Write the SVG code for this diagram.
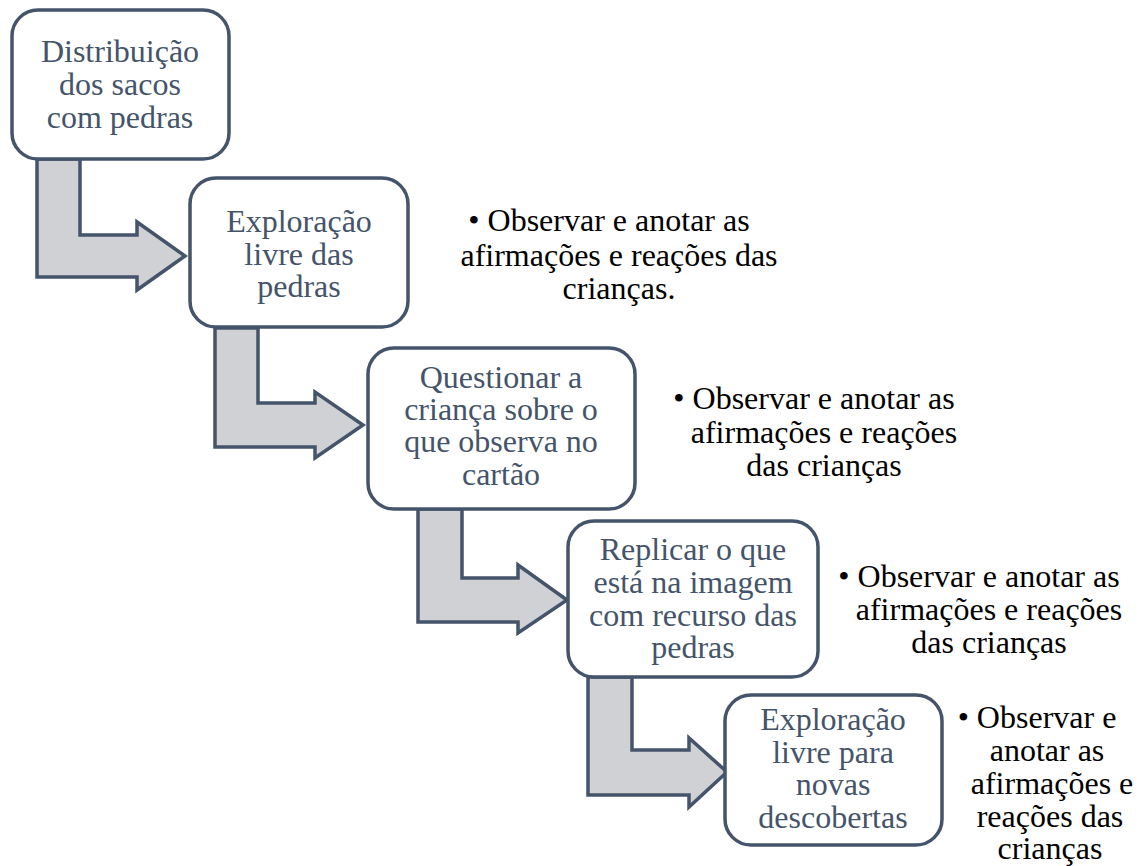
<svg xmlns="http://www.w3.org/2000/svg" width="1139" height="866" viewBox="0 0 1139 866">
<style>
.box{fill:#ffffff;stroke:#44546A;stroke-width:3.5}
.arr{fill:#D0D1D5;stroke:#44546A;stroke-width:3.5;stroke-linejoin:miter}
</style>
<rect width="1139" height="866" fill="#ffffff"/>
<g id="connectors">
<path class="arr" d="M37,159 L80,159 L80,235 L137,235 L137,222 L185,256 L137,290 L137,277 L37,277 Z"/>
<path class="arr" d="M215,328 L258,328 L258,403 L315,403 L315,392 L363,425 L315,458 L315,447 L215,447 Z"/>
<path class="arr" d="M418,509 L462,509 L462,578 L518,578 L518,565 L567,600 L518,633 L518,622 L418,622 Z"/>
<path class="arr" d="M588,677 L632,677 L632,750 L689,750 L689,738 L727,772 L689,807 L689,795 L588,795 Z"/>
</g>
<g font-family="'Liberation Serif', serif" font-size="32" text-anchor="middle" fill="#44546A">
<g id="node1">
<rect class="box" x="12" y="10" width="217" height="149" rx="26"/>
<text x="120" y="62">Distribuição</text>
<text x="120" y="95">dos sacos</text>
<text x="120" y="128">com pedras</text>
</g>
<g id="node2">
<rect class="box" x="190" y="178" width="218" height="149" rx="26"/>
<text x="299" y="232">Exploração</text>
<text x="299" y="265">livre das</text>
<text x="299" y="297">pedras</text>
</g>
<g id="node3">
<rect class="box" x="368" y="348" width="267" height="161" rx="26"/>
<text x="501" y="388">Questionar a</text>
<text x="501" y="420">criança sobre o</text>
<text x="501" y="452">que observa no</text>
<text x="501" y="485">cartão</text>
</g>
<g id="node4">
<rect class="box" x="568" y="521" width="250" height="156" rx="26"/>
<text x="693" y="560">Replicar o que</text>
<text x="693" y="593">está na imagem</text>
<text x="693" y="626">com recurso das</text>
<text x="693" y="658">pedras</text>
</g>
<g id="node5">
<rect class="box" x="725" y="695" width="217" height="150" rx="26"/>
<text x="833" y="730">Exploração</text>
<text x="833" y="763">livre para</text>
<text x="833" y="795">novas</text>
<text x="833" y="828">descobertas</text>
</g>
</g>
<g font-family="'Liberation Serif', serif" font-size="32" text-anchor="middle" fill="#000000">
<g id="note1">
<text x="609" y="231">• Observar e anotar as</text>
<text x="619" y="266">afirmações e reações das</text>
<text x="619" y="299">crianças.</text>
</g>
<g id="note2">
<text x="814" y="409">•  Observar e anotar as</text>
<text x="824" y="443">afirmações e reações</text>
<text x="824" y="476">das crianças</text>
</g>
<g id="note3">
<text x="979" y="587">• Observar e anotar as</text>
<text x="989" y="620">afirmações e reações</text>
<text x="989" y="653">das crianças</text>
</g>
<g id="note4">
<text x="1037" y="728">• Observar e</text>
<text x="1047" y="761">anotar as</text>
<text x="1052" y="794">afirmações e</text>
<text x="1050" y="827">reações das</text>
<text x="1050" y="859">crianças</text>
</g>
</g>
</svg>
